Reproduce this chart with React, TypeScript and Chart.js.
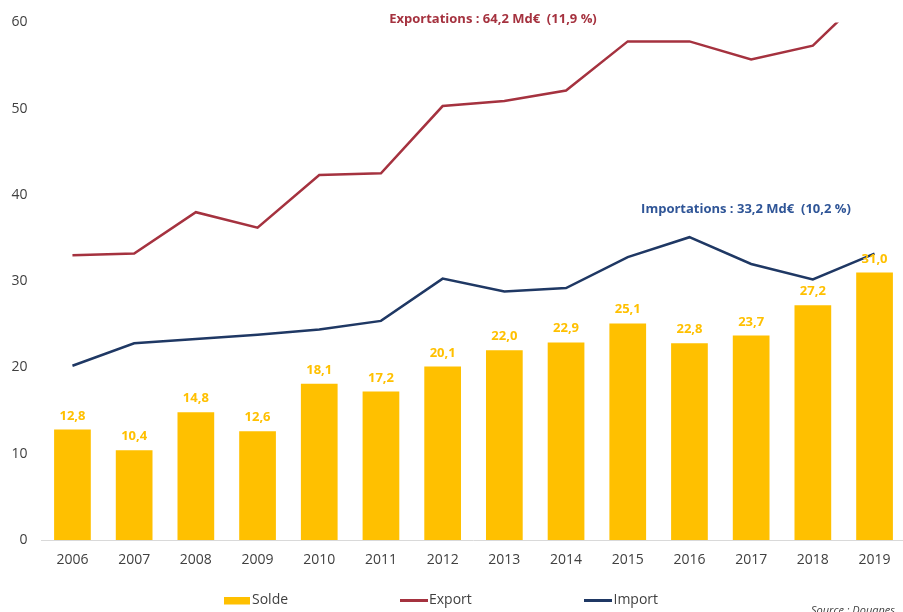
import React, { useEffect, useRef } from "react";
import { Chart, registerables } from "chart.js";

Chart.register(...registerables);

const years = ["2006", "2007", "2008", "2009", "2010", "2011", "2012", "2013", "2014", "2015", "2016", "2017", "2018", "2019"];
const solde = [12.8, 10.4, 14.8, 12.6, 18.1, 17.2, 20.1, 22.0, 22.9, 25.1, 22.8, 23.7, 27.2, 31.0];
const exportsV = [33.0, 33.2, 38.0, 36.2, 42.3, 42.5, 50.3, 50.9, 52.1, 57.8, 57.8, 55.7, 57.3, 64.2];
const importsV = [20.2, 22.8, 23.3, 23.8, 24.4, 25.4, 30.3, 28.8, 29.2, 32.8, 35.1, 32.0, 30.2, 33.2];
const seriesLabels = ["Solde", "Export", "Import"];
const exportNote = "Exportations : 64,2 Md€  (11,9 %)";
const importNote = "Importations : 33,2 Md€  (10,2 %)";
const sourceNote = "Source : Douanes";

const GOLD = "#FFC000";
const RED = "#A5323F";
const NAVY = "#1F3864";
const FONT = "'Open Sans', sans-serif";

const fmt = (v: number) => v.toFixed(1).replace(".", ",");

const extrasPlugin = {
  id: "extras",
  afterDatasetsDraw(chart: any) {
    const ctx = chart.ctx;
    ctx.save();
    // bar value labels
    const meta = chart.getDatasetMeta(0);
    ctx.font = `bold 13px ${FONT}`;
    ctx.fillStyle = GOLD;
    ctx.textAlign = "center";
    ctx.textBaseline = "alphabetic";
    meta.data.forEach((bar: any, i: number) => {
      ctx.fillText(fmt(chart.data.datasets[0].data[i]), bar.x, bar.y - 10);
    });
    // annotations
    ctx.textBaseline = "middle";
    ctx.fillStyle = RED;
    ctx.fillText(exportNote, 493, 19);
    ctx.fillStyle = "#2F5597";
    ctx.fillText(importNote, 746, 209.5);
    // legend
    const ly = 600.5;
    ctx.font = `14px ${FONT}`;
    ctx.textAlign = "left";
    ctx.fillStyle = GOLD;
    ctx.fillRect(224, 597, 26, 7.5);
    ctx.lineWidth = 3;
    ctx.strokeStyle = RED;
    ctx.beginPath();
    ctx.moveTo(400, ly);
    ctx.lineTo(428, ly);
    ctx.stroke();
    ctx.strokeStyle = NAVY;
    ctx.beginPath();
    ctx.moveTo(584, ly);
    ctx.lineTo(612, ly);
    ctx.stroke();
    ctx.fillStyle = "#404040";
    ctx.fillText(chart.data.datasets[0].label, 252, ly);
    ctx.fillText(chart.data.datasets[1].label, 429, ly);
    ctx.fillText(chart.data.datasets[2].label, 613.5, ly);
    // source
    ctx.font = `italic 11px ${FONT}`;
    ctx.fillStyle = "#404040";
    ctx.textBaseline = "alphabetic";
    ctx.fillText(sourceNote, 811, 614);
    ctx.restore();
  },
};

export default function App() {
  const ref = useRef<HTMLCanvasElement | null>(null);
  useEffect(() => {
    if (!ref.current) return;
    const chart = new Chart(ref.current, {
      type: "bar",
      data: {
        labels: years,
        datasets: [
          {
            type: "bar",
            label: seriesLabels[0],
            data: solde,
            backgroundColor: GOLD,
            borderWidth: 0,
            categoryPercentage: 1,
            barPercentage: 0.595,
            order: 2,
          },
          {
            type: "line",
            label: seriesLabels[1],
            data: exportsV,
            borderColor: RED,
            borderWidth: 2.5,
            pointRadius: 0,
            tension: 0,
            fill: false,
            order: 1,
          },
          {
            type: "line",
            label: seriesLabels[2],
            data: importsV,
            borderColor: NAVY,
            borderWidth: 2.5,
            pointRadius: 0,
            tension: 0,
            fill: false,
            order: 1,
          },
        ] as any,
      },
      options: {
        animation: false,
        responsive: false,
        devicePixelRatio: 1,
        layout: { padding: { top: 20, right: 6.6, left: 0, bottom: 0 } },
        plugins: {
          legend: { display: false },
          tooltip: { enabled: false },
        },
        scales: {
          x: {
            offset: true,
            grid: { display: false, drawTicks: false },
            border: { display: true, color: "#D9D9D9", width: 1 },
            ticks: { color: "#404040", font: { family: FONT, size: 14 }, padding: 12, maxRotation: 0 },
            afterFit: (s: any) => {
              s.height = 72;
            },
          },
          y: {
            min: 0,
            max: 60,
            grid: { display: false, drawTicks: false },
            border: { display: false },
            ticks: { stepSize: 10, color: "#404040", font: { family: FONT, size: 14 }, padding: 14 },
            afterFit: (s: any) => {
              s.width = 41.6;
            },
          },
        },
      },
      plugins: [extrasPlugin],
    });
    return () => chart.destroy();
  }, []);
  return (
    <div style={{ position: "fixed", left: 0, top: 0, width: 903, height: 612, overflow: "hidden", background: "#fff" }}>
      <canvas ref={ref} width={912} height={612} style={{ display: "block" }} />
    </div>
  );
}
